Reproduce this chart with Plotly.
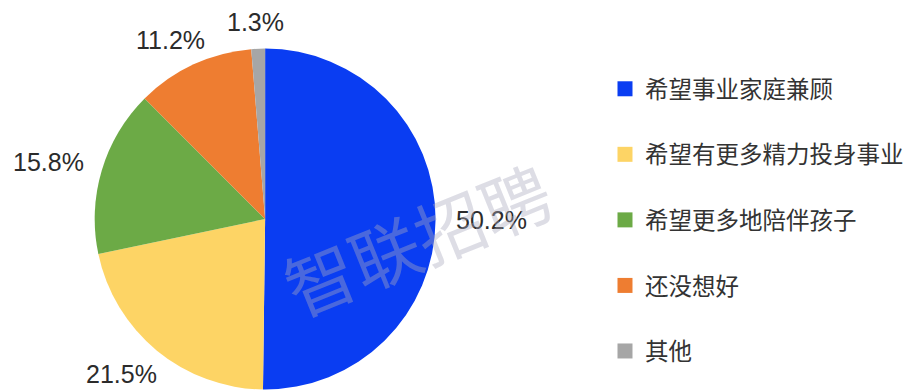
import math
import plotly.graph_objects as go

# Survey answers and their shares (%)
categories = ["希望事业家庭兼顾", "希望有更多精力投身事业", "希望更多地陪伴孩子", "还没想好", "其他"]
shares = [50.2, 21.5, 15.8, 11.2, 1.3]
colors = ["#0A3DF2", "#FDD465", "#6CAA46", "#EE7D31", "#A6A6A6"]

W, H = 909, 392
CX, CY, R = 266, 219, 171          # pie centre / radius in pixels
label_font = dict(family="Liberation Sans, Arial, sans-serif", size=25, color="#2b2b2b")
cjk = "Noto Sans CJK SC, sans-serif"

fig = go.Figure()

fig.add_trace(go.Pie(
    labels=categories,
    values=shares,
    sort=False,
    direction="clockwise",
    rotation=0,
    marker=dict(colors=colors, line=dict(width=0)),
    textinfo="none",
    showlegend=False,
    domain=dict(x=[(CX - R) / W, (CX + R) / W], y=[(H - CY - R) / H, (H - CY + R) / H]),
    hovertemplate="%{label}: %{value}%<extra></extra>",
))

# Percentage labels placed just outside each slice, at its mid-angle
total = sum(shares)
cum = 0.0
gap, half_w, half_h = 21, 35, 9
for v in shares:
    theta = 2 * math.pi * (cum + v / 2) / total   # clockwise from 12 o'clock
    cum += v
    ux, uy = math.sin(theta), math.cos(theta)
    dx = (R + gap) * ux + half_w * ux
    dy = (R + gap - 4 * max(uy, 0)) * uy + half_h * uy
    fig.add_annotation(
        text=f"{v}%", xref="paper", yref="paper",
        x=(CX + dx) / W, y=(H - CY + dy) / H,
        xanchor="center", yanchor="middle", showarrow=False,
        font=label_font,
    )

# Legend entries (one group per category so they can be spaced apart)
for i, (name, c) in enumerate(zip(categories, colors)):
    fig.add_trace(go.Scatter(
        x=[None], y=[None], mode="markers", name=name,
        marker=dict(symbol="square", size=15, color=c),
        legendgroup=f"g{i}", showlegend=True,
    ))

fig.add_annotation(
    text="智联招聘", xref="paper", yref="paper",
    x=418 / W, y=1 - 238 / H, xanchor="center", yanchor="middle",
    showarrow=False, textangle=-22,
    font=dict(family=cjk, size=70, color="rgba(170,170,190,0.4)"),
)

fig.update_layout(
    width=W, height=H,
    margin=dict(l=0, r=0, t=0, b=0),
    paper_bgcolor="white", plot_bgcolor="white",
    xaxis=dict(visible=False), yaxis=dict(visible=False),
    legend=dict(
        x=607 / W, y=1 - 67 / H, xanchor="left", yanchor="top",
        font=dict(family=cjk, size=23.5, color="#333333"),
        tracegroupgap=32, itemclick=False, itemdoubleclick=False,
    ),
)

fig.write_html("out.html")
